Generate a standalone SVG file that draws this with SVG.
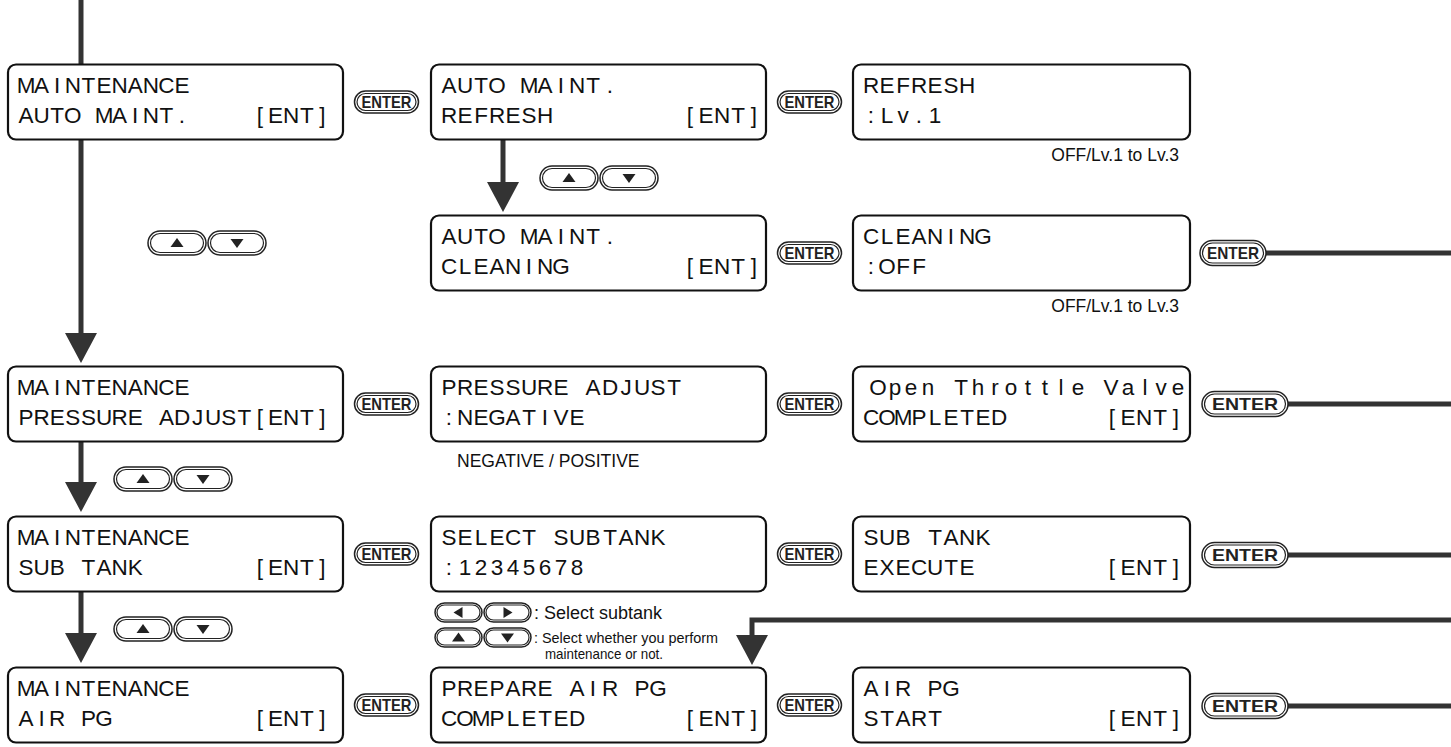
<svg xmlns="http://www.w3.org/2000/svg" xmlns:xlink="http://www.w3.org/1999/xlink" width="1451" height="747" viewBox="0 0 1451 747">
<style>
.box{fill:#fff;stroke:#111;stroke-width:2.2}
.lcd{font-family:"Liberation Sans",Arial,sans-serif;font-size:22.5px;fill:#111;text-anchor:middle}
.conn{stroke:#333;stroke-width:5;fill:none}
.ah{fill:#333}
.po{fill:#fff;stroke:#222;stroke-width:1.5}
.pi{fill:none;stroke:#222;stroke-width:1.2}
.tri{fill:#222}
.ent{font-family:"Liberation Sans",Arial,sans-serif;font-weight:bold;font-size:17px;fill:#222;text-anchor:middle}
.note{font-family:"Liberation Sans",Arial,sans-serif;font-size:17.5px;fill:#111}
</style>
<defs>
<g id="entS"><rect class="po" x="-32" y="-11" width="64" height="22" rx="11"/><rect class="pi" x="-29.5" y="-8.5" width="59" height="17" rx="8.5"/></g>
<g id="entM"><rect class="po" x="-33" y="-12.5" width="66" height="25" rx="12.5"/><rect class="pi" x="-30.5" y="-10" width="61" height="20" rx="10"/></g>
<g id="entL"><rect class="po" x="-43" y="-12.5" width="86" height="25" rx="12.5"/><rect class="pi" x="-40.5" y="-10" width="81" height="20" rx="10"/></g>
<g id="pud"><rect class="po" x="0" y="0" width="58" height="24" rx="12"/><rect class="pi" x="2.5" y="2.5" width="53" height="19" rx="9.5"/></g>
<g id="psm"><rect class="po" x="0" y="0" width="47" height="19" rx="9.5"/><rect class="pi" x="2" y="2" width="43" height="15" rx="7.5"/></g>
<path id="tU" class="tri" d="M-6.5 4 L6.5 4 L0 -5 Z"/>
<path id="tD" class="tri" d="M-6.5 -4 L6.5 -4 L0 5 Z"/>
<path id="tL" class="tri" d="M4 -5.5 L4 5.5 L-5 0 Z"/>
<path id="tR" class="tri" d="M-4 -5.5 L-4 5.5 L5 0 Z"/>
</defs>

<g id="connectors">
<path class="conn" d="M81 0 V64.5"/>
<path class="conn" d="M81 139.5 V336"/>
<polygon class="ah" points="65,333 97,333 81,363"/>
<path class="conn" d="M81 441.5 V485"/>
<polygon class="ah" points="65,482 97,482 81,512"/>
<path class="conn" d="M81 591.5 V636"/>
<polygon class="ah" points="65,633 97,633 81,663"/>
<path class="conn" d="M503 139.5 V185"/>
<polygon class="ah" points="487,182 519,182 503,212"/>
<path class="conn" d="M1451 620 H752 V638"/>
<polygon class="ah" points="736,635 768,635 752,665"/>
<path class="conn" d="M1266 253 H1451"/>
<path class="conn" d="M1288 404 H1451"/>
<path class="conn" d="M1288 555 H1451"/>
<path class="conn" d="M1288 706 H1451"/>
</g>

<g id="keys">
<g id="enter-keys">
<use xlink:href="#entS" x="386.5" y="102"/><text class="ent" x="386.5" y="108" textLength="50" lengthAdjust="spacingAndGlyphs">ENTER</text>
<use xlink:href="#entS" x="809.5" y="102"/><text class="ent" x="809.5" y="108" textLength="50" lengthAdjust="spacingAndGlyphs">ENTER</text>
<use xlink:href="#entS" x="809.5" y="253"/><text class="ent" x="809.5" y="259" textLength="50" lengthAdjust="spacingAndGlyphs">ENTER</text>
<use xlink:href="#entM" x="1233" y="253"/><text class="ent" x="1233" y="259" textLength="52" lengthAdjust="spacingAndGlyphs">ENTER</text>
<use xlink:href="#entS" x="386.5" y="404"/><text class="ent" x="386.5" y="410" textLength="50" lengthAdjust="spacingAndGlyphs">ENTER</text>
<use xlink:href="#entS" x="809.5" y="404"/><text class="ent" x="809.5" y="410" textLength="50" lengthAdjust="spacingAndGlyphs">ENTER</text>
<use xlink:href="#entL" x="1245" y="404"/><text class="ent" x="1245" y="410" textLength="66" lengthAdjust="spacingAndGlyphs">ENTER</text>
<use xlink:href="#entS" x="386.5" y="554"/><text class="ent" x="386.5" y="560" textLength="50" lengthAdjust="spacingAndGlyphs">ENTER</text>
<use xlink:href="#entS" x="809.5" y="554"/><text class="ent" x="809.5" y="560" textLength="50" lengthAdjust="spacingAndGlyphs">ENTER</text>
<use xlink:href="#entL" x="1245" y="555"/><text class="ent" x="1245" y="561" textLength="66" lengthAdjust="spacingAndGlyphs">ENTER</text>
<use xlink:href="#entS" x="386.5" y="705"/><text class="ent" x="386.5" y="711" textLength="50" lengthAdjust="spacingAndGlyphs">ENTER</text>
<use xlink:href="#entS" x="809.5" y="705"/><text class="ent" x="809.5" y="711" textLength="50" lengthAdjust="spacingAndGlyphs">ENTER</text>
<use xlink:href="#entL" x="1245" y="706"/><text class="ent" x="1245" y="712" textLength="66" lengthAdjust="spacingAndGlyphs">ENTER</text>
</g>
<g id="updown-keys">
<use xlink:href="#pud" x="148" y="231"/><use xlink:href="#tU" x="177" y="243"/>
<use xlink:href="#pud" x="208" y="231"/><use xlink:href="#tD" x="237" y="243"/>
<use xlink:href="#pud" x="540" y="166"/><use xlink:href="#tU" x="569" y="178"/>
<use xlink:href="#pud" x="600" y="166"/><use xlink:href="#tD" x="629" y="178"/>
<use xlink:href="#pud" x="114" y="467"/><use xlink:href="#tU" x="143" y="479"/>
<use xlink:href="#pud" x="174" y="467"/><use xlink:href="#tD" x="203" y="479"/>
<use xlink:href="#pud" x="114" y="617"/><use xlink:href="#tU" x="143" y="629"/>
<use xlink:href="#pud" x="174" y="617"/><use xlink:href="#tD" x="203" y="629"/>
</g>
</g>

<g id="notes">
<text class="note" x="1179" y="161" text-anchor="end">OFF/Lv.1 to Lv.3</text>
<text class="note" x="1179" y="312" text-anchor="end">OFF/Lv.1 to Lv.3</text>
<text class="note" x="457" y="466.5">NEGATIVE / POSITIVE</text>
<g id="legend">
<use xlink:href="#psm" x="435" y="603"/><use xlink:href="#tL" x="458.5" y="612.5"/>
<use xlink:href="#psm" x="484" y="603"/><use xlink:href="#tR" x="507.5" y="612.5"/>
<text class="note" x="534" y="619" style="font-size:18px">: Select subtank</text>
<use xlink:href="#psm" x="435" y="628"/><use xlink:href="#tU" x="458.5" y="637.5"/>
<use xlink:href="#psm" x="484" y="628"/><use xlink:href="#tD" x="507.5" y="637.5"/>
<text class="note" x="534" y="643" style="font-size:15px" textLength="184" lengthAdjust="spacingAndGlyphs">: Select whether you perform</text>
<text class="note" x="545" y="659" style="font-size:15px" textLength="118" lengthAdjust="spacingAndGlyphs">maintenance or not.</text>
</g>
</g>

<g id="n-maint-auto">
<rect class="box" x="8" y="64.5" width="335" height="75" rx="8"/>
<text class="lcd" x="26 41.6 57.2 72.8 88.4 104 119.6 135.2 150.8 166.4 182" y="92.5">MAINTENANCE</text>
<text class="lcd" x="26 41.6 57.2 72.8 88.4 104 119.6 135.2 150.8 166.4 182 197.6 260 275.6 291.2 306.8 322.4" y="122.5">AUTO MAINT. [ENT]</text>
</g>
<g id="n-maint-pressure">
<rect class="box" x="8" y="366.5" width="335" height="75" rx="8"/>
<text class="lcd" x="26 41.6 57.2 72.8 88.4 104 119.6 135.2 150.8 166.4 182" y="394.5">MAINTENANCE</text>
<text class="lcd" x="26 41.6 57.2 72.8 88.4 104 119.6 135.2 150.8 166.4 182 197.6 213.2 228.8 244.4 260 275.6 291.2 306.8 322.4" y="424.5">PRESSURE ADJUST[ENT]</text>
</g>
<g id="n-maint-subtank">
<rect class="box" x="8" y="516.5" width="335" height="75" rx="8"/>
<text class="lcd" x="26 41.6 57.2 72.8 88.4 104 119.6 135.2 150.8 166.4 182" y="544.5">MAINTENANCE</text>
<text class="lcd" x="26 41.6 57.2 72.8 88.4 104 119.6 135.2 150.8 260 275.6 291.2 306.8 322.4" y="574.5">SUB TANK [ENT]</text>
</g>
<g id="n-maint-airpg">
<rect class="box" x="8" y="667.5" width="335" height="75" rx="8"/>
<text class="lcd" x="26 41.6 57.2 72.8 88.4 104 119.6 135.2 150.8 166.4 182" y="695.5">MAINTENANCE</text>
<text class="lcd" x="26 41.6 57.2 72.8 88.4 104 119.6 260 275.6 291.2 306.8 322.4" y="725.5">AIR PG [ENT]</text>
</g>

<g id="n-auto-refresh">
<rect class="box" x="431" y="64.5" width="335" height="75" rx="8"/>
<text class="lcd" x="449 465 481 497 513 529 545 561 577 593 610" y="92.5">AUTO MAINT.</text>
<text class="lcd" x="449 465 481 497 513 529 545 561 690 706 722 738 754" y="122.5">REFRESH [ENT]</text>
</g>
<g id="n-auto-cleaning">
<rect class="box" x="431" y="215.5" width="335" height="75" rx="8"/>
<text class="lcd" x="449 465 481 497 513 529 545 561 577 593 610" y="243.5">AUTO MAINT.</text>
<text class="lcd" x="449 465 481 497 513 529 545 561 577 690 706 722 738 754" y="273.5">CLEANING [ENT]</text>
</g>
<g id="n-pressure-adjust">
<rect class="box" x="431" y="366.5" width="335" height="75" rx="8"/>
<text class="lcd" x="449 465 481 497 513 529 545 561 577 593 610 626 642 658 674" y="394.5">PRESSURE ADJUST</text>
<text class="lcd" x="449 465 481 497 513 529 545 561 577" y="424.5">:NEGATIVE</text>
</g>
<g id="n-select-subtank">
<rect class="box" x="431" y="516.5" width="335" height="75" rx="8"/>
<text class="lcd" x="449 465 481 497 513 529 545 561 577 593 610 626 642 658" y="544.5">SELECT SUBTANK</text>
<text class="lcd" x="449 465 481 497 513 529 545 561 577" y="574.5">:12345678</text>
</g>
<g id="n-prepare-airpg">
<rect class="box" x="431" y="667.5" width="335" height="75" rx="8"/>
<text class="lcd" x="449 465 481 497 513 529 545 561 577 593 610 626 642 658" y="695.5">PREPARE AIR PG</text>
<text class="lcd" x="449 465 481 497 513 529 545 561 577 593 690 706 722 738 754" y="725.5">COMPLETED [ENT]</text>
</g>

<g id="n-refresh">
<rect class="box" x="853" y="64.5" width="337" height="75" rx="8"/>
<text class="lcd" x="871 887 903 919 935 951 967" y="92.5">REFRESH</text>
<text class="lcd" x="871 887 903 919 935" y="122.5">:Lv.1</text>
</g>
<g id="n-cleaning">
<rect class="box" x="853" y="215.5" width="337" height="75" rx="8"/>
<text class="lcd" x="871 887 903 919 935 951 967 983" y="243.5">CLEANING</text>
<text class="lcd" x="871 887 903 919" y="273.5">:OFF</text>
</g>
<g id="n-open-throttle">
<rect class="box" x="853" y="366.5" width="337" height="75" rx="8"/>
<text class="lcd" x="878 895 911 928 945 961 978 995 1011 1028 1045 1061 1078 1095 1111 1128 1145 1161 1178" y="394.5">Open Throttle Valve</text>
<text class="lcd" x="871 887 903 919 935 951 967 983 999 1015 1112 1128 1144 1160 1176" y="424.5">COMPLETED [ENT]</text>
</g>
<g id="n-subtank-exec">
<rect class="box" x="853" y="516.5" width="337" height="75" rx="8"/>
<text class="lcd" x="871 887 903 919 935 951 967 983" y="544.5">SUB TANK</text>
<text class="lcd" x="871 887 903 919 935 951 967 983 1112 1128 1144 1160 1176" y="574.5">EXECUTE [ENT]</text>
</g>
<g id="n-airpg-start">
<rect class="box" x="853" y="667.5" width="337" height="75" rx="8"/>
<text class="lcd" x="871 887 903 919 935 951" y="695.5">AIR PG</text>
<text class="lcd" x="871 887 903 919 935 951 1112 1128 1144 1160 1176" y="725.5">START [ENT]</text>
</g>
</svg>
